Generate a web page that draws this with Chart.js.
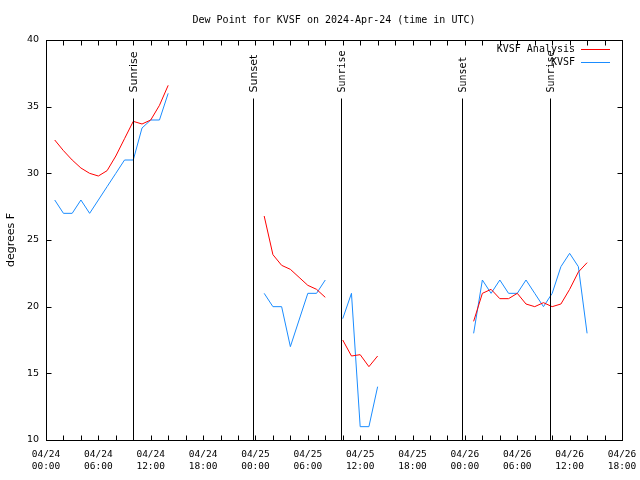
<!DOCTYPE html>
<html>
<head>
<meta charset="utf-8">
<title>Dew Point for KVSF</title>
<script src="https://cdn.jsdelivr.net/npm/chart.js@4.4.1/dist/chart.umd.min.js"></script>
<style>
  html, body { margin: 0; padding: 0; background: #fff; }
  #wrap { width: 640px; height: 480px; }
</style>
</head>
<body>
<div id="wrap"><canvas id="dewChart" width="640" height="480"></canvas></div>
<script>
// hours after 2024-04-24 00:00 UTC, a null value breaks the line
const hours = [
  1, 2, 3, 4, 5, 6, 7, 8, 9, 10, 11, 12, 13, 14, 15,
  25, 26, 27, 28, 29, 30, 31, 32, 33,
  34, 35, 36, 37, 38, 39,
  49, 50, 51, 52, 53, 54, 55, 56, 57, 58, 59, 60, 61, 62
];
const analysis = [
  32.5, 31.7, 31.0, 30.4, 30.0, 29.8, 30.2, 31.3, 32.6, 33.9, 33.7, 34.0, 35.1, 36.6, null,
  26.8, 23.9, 23.1, 22.8, 22.2, 21.6, 21.3, 20.7, null,
  17.5, 16.3, 16.4, 15.5, 16.3, null,
  18.9, 21.0, 21.3, 20.6, 20.6, 21.0, 20.2, 20.0, 20.3, 20.0, 20.2, 21.3, 22.6, 23.3
];
const observed = [
  28, 27, 27, 28, 27, 28, 29, 30, 31, 31, 33.4, 34, 34, 36, null,
  21, 20, 20, 17, 19, 21, 21, 22, null,
  19.1, 21, 11, 11, 14, null,
  18, 22, 21, 22, 21, 21, 22, 21, 20, 21, 23, 24, 23, 18
];
const sunHours = [9.95, 23.75, 33.85, 47.65, 57.8];
const sunLabels = ["Sunrise", "Sunset", "Sunrise", "Sunset", "Sunrise"];
const xTickLabels = [
  ["04/24", "00:00"], ["04/24", "06:00"], ["04/24", "12:00"], ["04/24", "18:00"],
  ["04/25", "00:00"], ["04/25", "06:00"], ["04/25", "12:00"], ["04/25", "18:00"],
  ["04/26", "00:00"], ["04/26", "06:00"], ["04/26", "12:00"], ["04/26", "18:00"]
];

const mono = '"DejaVu Sans Mono", monospace';
const sans = '"DejaVu Sans", sans-serif';

const pts = (vals) => hours.map((h, i) => ({ x: h, y: vals[i] }));

// box, inward ticks, sun lines, title and legend in gnuplot style
const frame = {
  id: "frame",
  afterDraw(chart) {
    const { ctx, chartArea: a, scales: { x, y } } = chart;
    const L = Math.round(a.left) + 0.5, R = Math.round(a.right) + 0.5;
    const T = Math.round(a.top) + 0.5, B = Math.round(a.bottom) + 0.5;
    ctx.save();
    ctx.strokeStyle = "#000";
    ctx.lineWidth = 1;
    ctx.strokeRect(L, T, R - L, B - T);

    ctx.beginPath();
    x.ticks.forEach(t => {
      const px = Math.round(x.getPixelForValue(t.value)) + 0.5;
      ctx.moveTo(px, B); ctx.lineTo(px, B - 5);
      ctx.moveTo(px, T); ctx.lineTo(px, T + 5);
    });
    y.ticks.forEach(t => {
      const py = Math.round(y.getPixelForValue(t.value)) + 0.5;
      ctx.moveTo(L, py); ctx.lineTo(L + 5, py);
      ctx.moveTo(R, py); ctx.lineTo(R - 5, py);
    });
    ctx.stroke();

    ctx.fillStyle = "#000";
    sunHours.forEach((h, i) => {
      const px = Math.round(x.getPixelForValue(h)) + 0.5;
      ctx.beginPath();
      ctx.moveTo(px, T + 58);
      ctx.lineTo(px, B);
      ctx.stroke();
      ctx.save();
      ctx.translate(px + 0.5, T + 52);
      ctx.rotate(-Math.PI / 2);
      ctx.font = i < 2 ? "11px " + sans : "10px " + mono;
      ctx.textAlign = "left";
      ctx.textBaseline = "middle";
      ctx.fillText(sunLabels[i], 0, 0);
      ctx.restore();
    });

    ctx.font = "10px " + mono;
    ctx.textAlign = "center";
    ctx.textBaseline = "middle";
    ctx.fillText("Dew Point for KVSF on 2024-Apr-24 (time in UTC)", (a.left + a.right) / 2, 20);

    ctx.textAlign = "right";
    chart.data.datasets.forEach((ds, i) => {
      const ly = Math.round(a.top + 9 + i * 13) + 0.5;
      ctx.fillStyle = "#000";
      ctx.fillText(ds.label, a.right - 47, ly);
      ctx.strokeStyle = ds.borderColor;
      ctx.beginPath();
      ctx.moveTo(a.right - 41, ly);
      ctx.lineTo(a.right - 12, ly);
      ctx.stroke();
    });
    ctx.restore();
  }
};

new Chart(document.getElementById("dewChart"), {
  type: "line",
  data: {
    datasets: [
      { label: "KVSF Analysis", data: pts(analysis), borderColor: "#ff0000", borderWidth: 1, pointRadius: 0, spanGaps: false },
      { label: "KVSF", data: pts(observed), borderColor: "#1a8cff", borderWidth: 1, pointRadius: 0, spanGaps: false }
    ]
  },
  options: {
    responsive: false,
    animation: false,
    events: [],
    layout: { padding: { left: 0, top: 40, right: 18, bottom: 0 } },
    plugins: { legend: { display: false }, title: { display: false }, tooltip: { enabled: false } },
    scales: {
      x: {
        type: "linear",
        min: 0,
        max: 66,
        afterFit: (s) => { s.height = 40; s.paddingLeft = 0; s.paddingRight = 0; },
        grid: { display: false, drawTicks: false },
        border: { display: false },
        ticks: {
          stepSize: 2,
          autoSkip: false,
          maxRotation: 0,
          padding: 9,
          color: "#000",
          font: { family: mono, size: 9.5, lineHeight: "12px" },
          callback: (v) => (v % 6 === 0 ? xTickLabels[v / 6] : "")
        }
      },
      y: {
        min: 10,
        max: 40,
        afterFit: (s) => { s.width = 46; },
        grid: { display: false, drawTicks: false },
        border: { display: false },
        title: { display: true, text: "degrees F", color: "#000", font: { family: sans, size: 11 }, padding: { top: 5, bottom: 0 } },
        ticks: { stepSize: 5, padding: 7, color: "#000", font: { family: sans, size: 9.5 } }
      }
    }
  },
  plugins: [frame]
});
</script>
</body>
</html>
